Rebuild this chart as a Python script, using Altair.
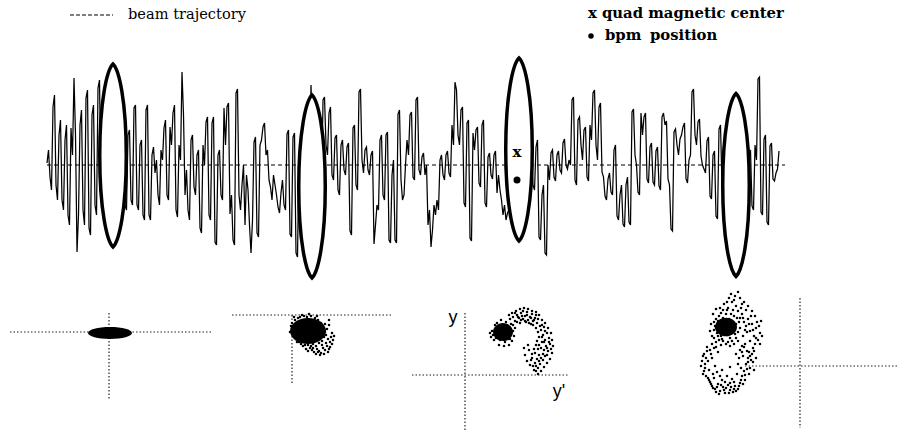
import altair as alt
import pandas as pd

W, H = 899, 432

# ---------------- data ----------------
# beam trajectory: offset from the design orbit (up positive).
# TRAJ are the main samples, TRAJ_MID the samples lying between consecutive main samples.
TRAJ = [
    2, -12, 58, -20, 30, -35, 25, -50, 37, 87,
    -87, 40, -45, 67, -63, 50, -40, 77, -30, 20,
    -20, 15, -10, 25, -30, 20, -40, 30, -35, 57,
    -40, 20, -50, 55, -50, 10, -8, -30, 15, 37,
    -30, 38, 52, -45, 20, 93, -30, -45, 25, -22,
    10, -63, 20, 43, -50, 42, -77, 10, -30, 57,
    58, -49, -75, 72, -30, -20, -60, -25, -88, 23,
    -68, 20, 38, 10, -15, -35, -20, -42, -28, -40,
    31, -69, 28, -88, 10, -20, 30, -10, 80, -20,
    40, -30, 65, 20, 52, -10, 27, -25, 20, -5,
    18, -66, 37, -20, 73, 5, 15, -5, 10, -79,
    -40, 25, -30, 30, -75, -10, -75, 51, -15, -30,
    25, 50, -12, 65, -5, 8, -10, -60, -82, -40,
    -35, 5, -10, 10, -8, 40, 83, 30, 55, -38,
    42, -73, 32, 35, -18, 40, -38, 8, -10, 10,
    -28, -25, -50, -55, -45, 10, -20, 30, -10, 20,
    -30, 15, -20, 18, -72, -30, -88, 0, 12, -12,
    10, -5, 22, 0, 5, 65, -15, 45, 20, 35,
    -12, 40, 72, 20, 58, -7, -31, -14, -27, 15,
    -51, -30, -59, -20, -57, 53, 10, -27, 52, 48,
    -14, 18, -17, 14, -21, 48, 40, -14, -64, 33,
    20, 26, 38, -14, 5, 73, 30, 43, 9, -4,
    24, -31, 10, -51, 36, -20, 10, -20, 20, -10,
    15, -25, 20, -30, 10, -41, 20, 86, -47, 26,
    -57, 19, -14, -8, 14,
]
TRAJ_MID = [
    15, -25, 70, -35, 45, -45, 40, -60, 10, 30,
    -50, 55, -60, 75, -70, 60, -50, 85, -40, 30,
    -25, 20, -15, 30, -35, 25, -45, 35, -40, 60,
    -45, 25, -55, 60, -55, 18, 5, -40, 5, 45,
    -35, 20, 60, -52, 5, 50, -5, -55, 30, -30,
    15, -68, 0, 48, -55, 48, -80, 15, -35, 20,
    62, -30, -80, 76, -45, 0, -10, -60, -55, 28,
    -72, 25, 42, 15, -22, -10, -30, -48, -15, -45,
    35, -72, 32, -92, 15, -25, 35, -15, 30, -25,
    45, -35, 68, 10, 58, -15, 30, -30, 25, -10,
    22, -70, 40, -25, 76, -8, 18, -10, 14, -60,
    -45, 30, -35, 33, -78, 5, -78, 55, -35, 0,
    10, 53, -15, 68, -10, 12, 0, -45, -65, -50,
    -45, 10, -15, 14, -12, 20, 75, 20, 58, -42,
    45, -76, 15, 38, -22, 45, -42, 12, -14, 14,
    -10, -35, -40, -48, -30, 15, -25, 35, -15, 25,
    -35, 20, -25, 25, -75, -20, -90, -15, 15, -16,
    14, -8, 26, -4, 0, 68, -20, 48, 5, 38,
    -16, 25, 75, 5, 62, -12, -35, -8, -30, 20,
    -55, -20, -62, -12, -60, 56, 0, -30, 30, 52,
    -18, 22, -20, 18, -25, 52, 44, -20, -66, 36,
    10, 30, 42, -18, 10, 76, 20, 46, 0, -8,
    28, -34, 14, -54, 40, -25, 15, -25, 25, -15,
    20, -30, 25, -35, 15, -45, 5, 88, -50, 30,
    -60, 22, -16, -4,
]

# quadrupoles: position along the line and offset of the lens centre
LENS_S = [113, 312, 519, 736]
LENS_OFF = [9.5, -21.5, 15.5, -20]

# quad magnetic centre ("x") and bpm reading (dot) inside the third quad
QUAD_S, QUAD_OFF = 517, 13
BPM_S, BPM_OFF = 517, -15

# phase-space clouds (y', y) relative to each panel's crosshair
CORE1 = [(1, -1)]
CORE2 = [(16, -16)]
CLOUD2 = [
    (0, -8), (1, -14), (2, -20), (3, -5), (4, -24), (6, -3), (5, -27), (8, -2), (9, -29), (12, -1),
    (11, -31), (15, -2), (16, -30), (19, -1), (21, -29), (23, -3), (24, -31), (26, -5), (27, -28), (29, -8),
    (30, -26), (31, -12), (32, -22), (33, -17), (34, -20), (35, -14), (36, -24), (37, -10), (38, -27), (40, -18),
    (18, -33), (20, -35), (22, -37), (25, -34), (27, -36), (29, -38), (31, -33), (33, -35), (35, -31), (36, -37),
    (38, -32), (40, -29), (14, -34), (16, -36), (30, -30), (34, -28), (39, -22), (41, -25),
    (-1, -11), (-2, -17), (2, -2), (10, 0), (17, 1), (25, -1), (33, -9), (37, -5), (42, -21), (28, -40),
    (24, -39), (32, -39), (21, -33), (26, -37), (37, -34), (19, -31), (13, -30), (7, -27),
]
CORE3 = [(38, 43)]
CLOUD3 = [
    (28, 40), (30, 45), (31, 37), (33, 48), (34, 41), (35, 35), (36, 44), (37, 50), (38, 38), (39, 46),
    (40, 33), (41, 42), (42, 49), (43, 36), (44, 45), (45, 40), (46, 51), (47, 34), (48, 44), (32, 52),
    (29, 35), (27, 44), (34, 30), (39, 29), (44, 30), (49, 39), (26, 38), (30, 50), (41, 53), (36, 55),
    (25, 42), (50, 47), (33, 43), (38, 42), (42, 40), (36, 39), (40, 47), (31, 42), (45, 36), (35, 47),
    (45, 56), (48, 58), (50, 54), (52, 60), (54, 57), (56, 62), (58, 56), (60, 59), (62, 63), (63, 55),
    (65, 58), (67, 61), (68, 54), (70, 57), (72, 52), (73, 56), (75, 49), (55, 52), (61, 53), (66, 51),
    (50, 62), (58, 64), (71, 60),
    (76, 45), (79, 48), (78, 40), (82, 42), (80, 35), (84, 37), (77, 33), (81, 29), (85, 31), (79, 25),
    (83, 24), (76, 27), (80, 19), (74, 20), (78, 15), (72, 16), (75, 11), (70, 12), (73, 7), (68, 9),
    (71, 4), (82, 20), (86, 26), (77, 38), (74, 30), (70, 22), (73, 26), (67, 17),
    (60, 20), (62, 14), (64, 25), (63, 30), (59, 27), (65, 10),
    (44, 60), (47, 62), (51, 64), (55, 66), (59, 67), (63, 66), (67, 64), (71, 63), (74, 60), (77, 55),
    (80, 52), (83, 47), (86, 42), (87, 35), (88, 29), (87, 22), (85, 16), (82, 12), (79, 8), (76, 4),
    (73, 1), (48, 50), (52, 53), (56, 55), (60, 54), (64, 52), (68, 50), (71, 47), (73, 43), (74, 38),
    (72, 34), (71, 30), (69, 26), (67, 21), (66, 15), (53, 58), (57, 59), (62, 60), (66, 57), (69, 55),
    (77, 50), (80, 44), (79, 33), (82, 27), (84, 33), (78, 21), (76, 17), (74, 14), (71, 9), (69, 5),
]
CORE4 = [(-74, 39)]
CLOUD4 = [
    (-85, 40), (-83, 33), (-82, 45), (-80, 37), (-79, 30), (-78, 42), (-77, 48), (-76, 35), (-75, 39), (-74, 44),
    (-73, 31), (-72, 37), (-71, 47), (-70, 41), (-69, 34), (-68, 45), (-67, 38), (-66, 50), (-65, 32), (-64, 42),
    (-81, 50), (-78, 27), (-74, 52), (-70, 28), (-86, 36), (-84, 47), (-66, 36), (-72, 42), (-76, 44), (-80, 42),
    (-68, 40), (-75, 33),
    (-88, 30), (-87, 52), (-84, 57), (-80, 58), (-76, 62), (-72, 58), (-68, 64), (-64, 60), (-62, 55), (-60, 48),
    (-58, 52), (-56, 44), (-54, 40), (-52, 47), (-50, 35), (-48, 42), (-46, 30), (-44, 38), (-42, 26), (-40, 33),
    (-60, 38), (-57, 30), (-62, 25), (-66, 22), (-70, 20), (-74, 22), (-79, 21), (-84, 24), (-55, 22), (-50, 25),
    (-47, 18), (-58, 62), (-65, 70), (-62, 74), (-71, 68), (-54, 56), (-45, 50), (-39, 45),
    (-86, 44), (-84, 38), (-82, 30), (-79, 53), (-77, 56), (-73, 56), (-69, 52), (-67, 56), (-63, 48), (-61, 44),
    (-62, 34), (-64, 28), (-68, 25), (-72, 24), (-77, 25), (-81, 26), (-86, 28), (-89, 42), (-90, 35), (-53, 34),
    (-51, 42), (-49, 50), (-47, 36), (-43, 44), (-41, 40), (-57, 48), (-55, 36), (-59, 58), (-56, 64), (-66, 66),
    (-69, 72), (-60, 68), (-73, 64), (-52, 60), (-48, 55), (-44, 28), (-40, 22), (-38, 30), (-45, 22),
    (-98, 5), (-96, 12), (-95, -2), (-94, 8), (-97, -8), (-93, 15), (-92, -12), (-95, 2),
    (-90, -16), (-88, -20), (-85, -23), (-82, -18), (-80, -25), (-77, -21), (-75, -27), (-72, -19), (-70, -24), (-67, -26),
    (-65, -20), (-62, -23), (-60, -17), (-86, -12), (-78, -14), (-68, -13), (-58, -10), (-84, -26), (-73, -10), (-63, -8),
    (-56, -5), (-54, 2), (-52, 8), (-50, -2), (-48, 12), (-53, 15), (-57, 10), (-51, -8), (-47, 4), (-55, -14),
    (-90, 16), (-86, 18), (-82, 14), (-60, 16), (-56, 19), (-64, 12), (-88, 8), (-85, 0), (-83, -6), (-62, 2),
    (-59, -2), (-78, -4), (-70, -1),
    (-99, 0), (-97, 10), (-96, -5), (-94, -10), (-91, -14), (-89, -18), (-87, -22), (-83, -21), (-81, -28), (-79, -19),
    (-76, -24), (-74, -22), (-71, -27), (-69, -21), (-66, -23), (-64, -25), (-61, -20), (-59, -14), (-57, -18), (-55, -9),
    (-53, -3), (-52, 4), (-50, 10), (-49, 6), (-51, 14), (-46, -4), (-44, 8), (-46, 15), (-58, 14), (-61, 8),
    (-89, 12), (-92, 5), (-91, -4), (-87, -8), (-80, -10), (-66, -16), (-70, -17), (-75, -16), (-93, 19), (-88, 22),
    (-84, 19), (-58, 20),
]

LEGEND_LEFT = "beam trajectory"
LEGEND_QUAD = "x quad magnetic center"
LEGEND_BPM_WORDS = ["bpm", "position"]

# ---------------- layout (canvas units) ----------------
AXIS_Y, S0, DS = 165, 47, 1.5
AXIS_X = (47, 785)
QUAD_X, QUAD_ROW_Y = 588, 14
BPM_WORD_X, BPM_ROW_Y = [605, 650], 36
PANELS = [  # crosshair origin, horizontal extent, vertical extent (relative)
    dict(ox=109, oy=332, h=(-99, 104), v=(19, -68)),
    dict(ox=292, oy=315, h=(-60, 101), v=(0, -68)),
    dict(ox=465, oy=375, h=(-53, 103), v=(62, -55)),
    dict(ox=800, oy=366, h=(-55, 97), v=(68, -62)),
]

xs = alt.Scale(domain=[0, W], nice=False, zero=False)
ys = alt.Scale(domain=[0, H], reverse=True, nice=False, zero=False)
X = lambda f="cx": alt.X(f"{f}:Q", scale=xs, axis=None)
Y = lambda f="cy": alt.Y(f"{f}:Q", scale=ys, axis=None)


def ellipse_path(ry):
    k = 0.5523
    return (f"M-1,0C-1,{-k*ry:.3f} {-k},{-ry} 0,{-ry}C{k},{-ry} 1,{-k*ry:.3f} 1,0"
            f"C1,{k*ry:.3f} {k},{ry} 0,{ry}C{-k},{ry} -1,{k*ry:.3f} -1,0Z")


LENS_PATH = ("M0,-1C0.065,-0.94 0.145,-0.6 0.145,0C0.145,0.6 0.065,0.94 0,1"
             "C-0.065,0.94 -0.145,0.6 -0.145,0C-0.145,-0.6 -0.065,-0.94 0,-1Z")


def cloud_df(points, p):
    return pd.DataFrame({"cx": [p["ox"] + a for a, b in points],
                         "cy": [p["oy"] - b for a, b in points]})


merged = []
for i, v in enumerate(TRAJ):
    merged.append(v)
    if i < len(TRAJ_MID):
        merged.append(TRAJ_MID[i])
traj = pd.DataFrame({"cx": [S0 + DS * k for k in range(len(merged))],
                     "cy": [AXIS_Y - v for v in merged]})
lens = pd.DataFrame({"cx": LENS_S, "cy": [AXIS_Y - o for o in LENS_OFF]})
axis_df = pd.DataFrame({"cx": [AXIS_X[0]], "cx2": [AXIS_X[1]], "cy": [AXIS_Y]})

layers = []
layers.append(alt.Chart(axis_df).mark_rule(color="black", strokeWidth=1.1, strokeDash=[4, 3])
              .encode(x=X(), x2="cx2:Q", y=Y()))
layers.append(alt.Chart(traj).mark_line(color="black", strokeWidth=1.25)
              .encode(x=X(), y=Y(), order="cx:Q"))
layers.append(alt.Chart(lens).mark_point(shape=LENS_PATH, size=183 ** 2, filled=True, fill="white",
                                         stroke="black", strokeWidth=3.5, opacity=1, fillOpacity=1,
                                         strokeOpacity=1)
              .encode(x=X(), y=Y()))
layers.append(alt.Chart(pd.DataFrame({"cx": [QUAD_S], "cy": [AXIS_Y - QUAD_OFF], "t": ["x"]}))
              .mark_text(font="DejaVu Serif", fontWeight="bold", fontSize=15, color="black",
                         baseline="middle", align="center")
              .encode(x=X(), y=Y(), text="t:N"))
layers.append(alt.Chart(pd.DataFrame({"cx": [BPM_S], "cy": [AXIS_Y - BPM_OFF]}))
              .mark_point(shape="circle", filled=True, color="black", size=49, opacity=1)
              .encode(x=X(), y=Y()))

# legend
layers.append(alt.Chart(pd.DataFrame({"cx": [70], "cx2": [113], "cy": [15]}))
              .mark_rule(color="black", strokeWidth=1.2, strokeDash=[4, 2])
              .encode(x=X(), x2="cx2:Q", y=Y()))
leg = pd.DataFrame({"cx": [128], "cy": [15], "t": [LEGEND_LEFT]})
layers.append(alt.Chart(leg).mark_text(font="DejaVu Serif", fontSize=14.6, align="left",
                                       baseline="middle", color="black")
              .encode(x=X(), y=Y(), text="t:N"))
legr = pd.DataFrame({"cx": [QUAD_X] + BPM_WORD_X,
                     "cy": [QUAD_ROW_Y] + [BPM_ROW_Y] * 2,
                     "t": [LEGEND_QUAD] + LEGEND_BPM_WORDS})
layers.append(alt.Chart(legr).mark_text(font="DejaVu Serif", fontWeight="bold", fontSize=14.8,
                                        align="left", baseline="middle", color="black")
              .encode(x=X(), y=Y(), text="t:N"))
layers.append(alt.Chart(pd.DataFrame({"cx": [591], "cy": [36]}))
              .mark_point(shape="circle", filled=True, color="black", size=30, opacity=1)
              .encode(x=X(), y=Y()))

# crosshairs
hrules = pd.DataFrame({"cx": [p["ox"] + p["h"][0] for p in PANELS],
                       "cx2": [p["ox"] + p["h"][1] for p in PANELS],
                       "cy": [p["oy"] for p in PANELS]})
vrules = pd.DataFrame({"cx": [p["ox"] for p in PANELS],
                       "cy": [p["oy"] - p["v"][0] for p in PANELS],
                       "cy2": [p["oy"] - p["v"][1] for p in PANELS]})
dot = dict(color="#222222", strokeWidth=1.2, strokeDash=[1.5, 2])
layers.append(alt.Chart(hrules).mark_rule(**dot).encode(x=X(), x2="cx2:Q", y=Y()))
layers.append(alt.Chart(vrules).mark_rule(**dot).encode(x=X(), y=Y(), y2="cy2:Q"))

# clouds
layers.append(alt.Chart(cloud_df(CORE1, PANELS[0])).mark_point(
    shape=ellipse_path(0.27), size=44 ** 2, filled=True, color="black", opacity=1).encode(x=X(), y=Y()))
layers.append(alt.Chart(cloud_df(CORE2, PANELS[1])).mark_point(
    shape=ellipse_path(0.72), size=36 ** 2, filled=True, color="black", opacity=1).encode(x=X(), y=Y()))
layers.append(alt.Chart(cloud_df(CORE3, PANELS[2])).mark_point(
    shape=ellipse_path(0.9), size=20 ** 2, filled=True, color="black", opacity=1).encode(x=X(), y=Y()))
layers.append(alt.Chart(cloud_df(CORE4, PANELS[3])).mark_point(
    shape=ellipse_path(0.85), size=22 ** 2, filled=True, color="black", opacity=1).encode(x=X(), y=Y()))
for pts, p in [(CLOUD2, PANELS[1]), (CLOUD3, PANELS[2]), (CLOUD4, PANELS[3])]:
    layers.append(alt.Chart(cloud_df(pts, p)).mark_square(size=5, color="black", opacity=1)
                  .encode(x=X(), y=Y()))

# phase-space axis labels
lab = pd.DataFrame({"cx": [453, 559], "cy": [318, 392], "t": ["y", "y'"]})
layers.append(alt.Chart(lab).mark_text(font="Liberation Sans", fontSize=18, align="center",
                                       baseline="middle", color="black")
              .encode(x=X(), y=Y(), text="t:N"))

chart = alt.layer(*layers).properties(
    width=W, height=H, autosize=alt.AutoSizeParams(type="none"), padding=0,
    background="white").configure_view(stroke=None)

chart.save("out.html", embed_options={"renderer": "svg", "actions": False})
